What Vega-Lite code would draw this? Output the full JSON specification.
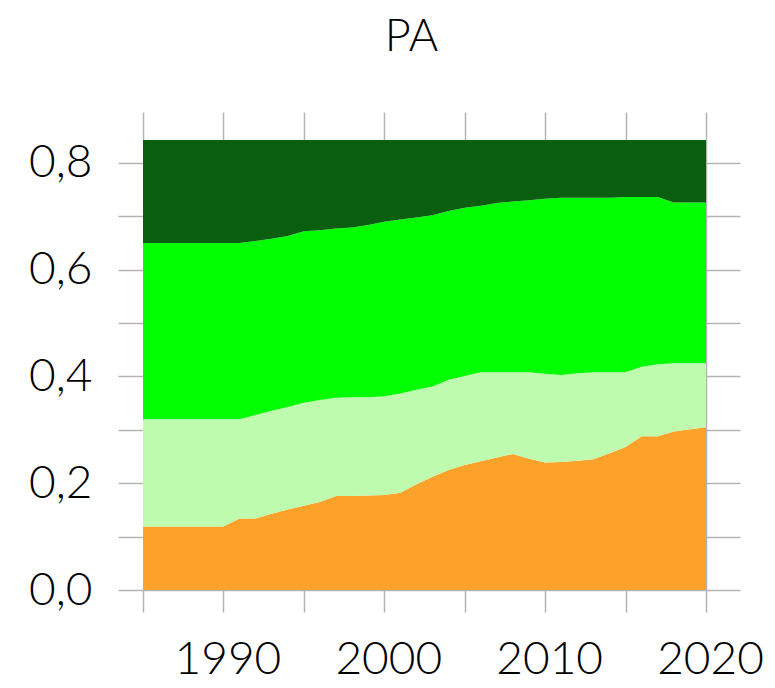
{
  "$schema": "https://vega.github.io/schema/vega-lite/v6.json",
  "width": 563,
  "height": 450,
  "autosize": {"type": "none"},
  "padding": {"left": 143, "top": 140, "right": 69, "bottom": 98},
  "background": "white",
  "title": {"text": "PA", "fontSize": 45, "font": "Lato", "fontWeight": 300, "color": "black", "frame": "group", "anchor": "middle", "offset": 15, "baseline": "alphabetic", "dx": -13},
  "config": {"view": {"stroke": null}},
  "data": {"values": [
    {"year":1985,"layer":"s1","share":0.119},{"year":1985,"layer":"s2","share":0.201},{"year":1985,"layer":"s3","share":0.330},{"year":1985,"layer":"s4","share":0.193},
    {"year":1986,"layer":"s1","share":0.119},{"year":1986,"layer":"s2","share":0.201},{"year":1986,"layer":"s3","share":0.330},{"year":1986,"layer":"s4","share":0.193},
    {"year":1987,"layer":"s1","share":0.119},{"year":1987,"layer":"s2","share":0.201},{"year":1987,"layer":"s3","share":0.330},{"year":1987,"layer":"s4","share":0.193},
    {"year":1988,"layer":"s1","share":0.119},{"year":1988,"layer":"s2","share":0.201},{"year":1988,"layer":"s3","share":0.330},{"year":1988,"layer":"s4","share":0.193},
    {"year":1989,"layer":"s1","share":0.119},{"year":1989,"layer":"s2","share":0.201},{"year":1989,"layer":"s3","share":0.330},{"year":1989,"layer":"s4","share":0.193},
    {"year":1990,"layer":"s1","share":0.119},{"year":1990,"layer":"s2","share":0.201},{"year":1990,"layer":"s3","share":0.330},{"year":1990,"layer":"s4","share":0.193},
    {"year":1991,"layer":"s1","share":0.134},{"year":1991,"layer":"s2","share":0.186},{"year":1991,"layer":"s3","share":0.330},{"year":1991,"layer":"s4","share":0.193},
    {"year":1992,"layer":"s1","share":0.134},{"year":1992,"layer":"s2","share":0.194},{"year":1992,"layer":"s3","share":0.326},{"year":1992,"layer":"s4","share":0.189},
    {"year":1993,"layer":"s1","share":0.143},{"year":1993,"layer":"s2","share":0.193},{"year":1993,"layer":"s3","share":0.322},{"year":1993,"layer":"s4","share":0.185},
    {"year":1994,"layer":"s1","share":0.151},{"year":1994,"layer":"s2","share":0.192},{"year":1994,"layer":"s3","share":0.320},{"year":1994,"layer":"s4","share":0.180},
    {"year":1995,"layer":"s1","share":0.158},{"year":1995,"layer":"s2","share":0.193},{"year":1995,"layer":"s3","share":0.321},{"year":1995,"layer":"s4","share":0.171},
    {"year":1996,"layer":"s1","share":0.165},{"year":1996,"layer":"s2","share":0.191},{"year":1996,"layer":"s3","share":0.318},{"year":1996,"layer":"s4","share":0.169},
    {"year":1997,"layer":"s1","share":0.176},{"year":1997,"layer":"s2","share":0.184},{"year":1997,"layer":"s3","share":0.317},{"year":1997,"layer":"s4","share":0.166},
    {"year":1998,"layer":"s1","share":0.176},{"year":1998,"layer":"s2","share":0.185},{"year":1998,"layer":"s3","share":0.318},{"year":1998,"layer":"s4","share":0.164},
    {"year":1999,"layer":"s1","share":0.177},{"year":1999,"layer":"s2","share":0.184},{"year":1999,"layer":"s3","share":0.323},{"year":1999,"layer":"s4","share":0.159},
    {"year":2000,"layer":"s1","share":0.178},{"year":2000,"layer":"s2","share":0.185},{"year":2000,"layer":"s3","share":0.327},{"year":2000,"layer":"s4","share":0.153},
    {"year":2001,"layer":"s1","share":0.182},{"year":2001,"layer":"s2","share":0.186},{"year":2001,"layer":"s3","share":0.326},{"year":2001,"layer":"s4","share":0.149},
    {"year":2002,"layer":"s1","share":0.198},{"year":2002,"layer":"s2","share":0.177},{"year":2002,"layer":"s3","share":0.323},{"year":2002,"layer":"s4","share":0.145},
    {"year":2003,"layer":"s1","share":0.212},{"year":2003,"layer":"s2","share":0.169},{"year":2003,"layer":"s3","share":0.321},{"year":2003,"layer":"s4","share":0.141},
    {"year":2004,"layer":"s1","share":0.225},{"year":2004,"layer":"s2","share":0.169},{"year":2004,"layer":"s3","share":0.316},{"year":2004,"layer":"s4","share":0.133},
    {"year":2005,"layer":"s1","share":0.234},{"year":2005,"layer":"s2","share":0.167},{"year":2005,"layer":"s3","share":0.315},{"year":2005,"layer":"s4","share":0.127},
    {"year":2006,"layer":"s1","share":0.241},{"year":2006,"layer":"s2","share":0.167},{"year":2006,"layer":"s3","share":0.312},{"year":2006,"layer":"s4","share":0.123},
    {"year":2007,"layer":"s1","share":0.248},{"year":2007,"layer":"s2","share":0.160},{"year":2007,"layer":"s3","share":0.317},{"year":2007,"layer":"s4","share":0.118},
    {"year":2008,"layer":"s1","share":0.255},{"year":2008,"layer":"s2","share":0.153},{"year":2008,"layer":"s3","share":0.320},{"year":2008,"layer":"s4","share":0.115},
    {"year":2009,"layer":"s1","share":0.246},{"year":2009,"layer":"s2","share":0.162},{"year":2009,"layer":"s3","share":0.322},{"year":2009,"layer":"s4","share":0.113},
    {"year":2010,"layer":"s1","share":0.239},{"year":2010,"layer":"s2","share":0.166},{"year":2010,"layer":"s3","share":0.328},{"year":2010,"layer":"s4","share":0.110},
    {"year":2011,"layer":"s1","share":0.240},{"year":2011,"layer":"s2","share":0.163},{"year":2011,"layer":"s3","share":0.332},{"year":2011,"layer":"s4","share":0.108},
    {"year":2012,"layer":"s1","share":0.242},{"year":2012,"layer":"s2","share":0.164},{"year":2012,"layer":"s3","share":0.329},{"year":2012,"layer":"s4","share":0.108},
    {"year":2013,"layer":"s1","share":0.245},{"year":2013,"layer":"s2","share":0.163},{"year":2013,"layer":"s3","share":0.327},{"year":2013,"layer":"s4","share":0.108},
    {"year":2014,"layer":"s1","share":0.256},{"year":2014,"layer":"s2","share":0.152},{"year":2014,"layer":"s3","share":0.327},{"year":2014,"layer":"s4","share":0.108},
    {"year":2015,"layer":"s1","share":0.268},{"year":2015,"layer":"s2","share":0.140},{"year":2015,"layer":"s3","share":0.328},{"year":2015,"layer":"s4","share":0.107},
    {"year":2016,"layer":"s1","share":0.288},{"year":2016,"layer":"s2","share":0.130},{"year":2016,"layer":"s3","share":0.318},{"year":2016,"layer":"s4","share":0.107},
    {"year":2017,"layer":"s1","share":0.288},{"year":2017,"layer":"s2","share":0.135},{"year":2017,"layer":"s3","share":0.313},{"year":2017,"layer":"s4","share":0.107},
    {"year":2018,"layer":"s1","share":0.297},{"year":2018,"layer":"s2","share":0.128},{"year":2018,"layer":"s3","share":0.301},{"year":2018,"layer":"s4","share":0.117},
    {"year":2019,"layer":"s1","share":0.301},{"year":2019,"layer":"s2","share":0.124},{"year":2019,"layer":"s3","share":0.301},{"year":2019,"layer":"s4","share":0.117},
    {"year":2020,"layer":"s1","share":0.305},{"year":2020,"layer":"s2","share":0.120},{"year":2020,"layer":"s3","share":0.301},{"year":2020,"layer":"s4","share":0.117}
  ]},
  "layer": [
    {
      "mark": {"type": "area", "opacity": 0},
      "encoding": {
        "x": {"field": "year", "type": "quantitative", "scale": {"domain": [1985, 2020], "nice": false},
          "axis": {"orient": "top", "values": [1985,1990,1995,2000,2005,2010,2015,2020], "tickSize": 28, "tickColor": "#b4b4b4", "tickWidth": 1.5, "labels": false, "domain": false, "grid": false, "title": null}},
        "y": {"field": "share", "type": "quantitative", "stack": "zero", "scale": {"domain": [0, 0.843], "nice": false},
          "axis": {"orient": "right", "values": [0,0.1,0.2,0.3,0.4,0.5,0.6,0.7,0.8], "tickSize": 34, "tickColor": "#b4b4b4", "tickWidth": 1.5, "labels": false, "domain": true, "domainColor": "#b4b4b4", "domainWidth": 1.5, "grid": false, "title": null}},
        "color": {"field": "layer", "type": "nominal", "legend": null},
        "order": {"field": "layer", "sort": "ascending"}
      }
    },
    {
      "mark": {"type": "area", "opacity": 1},
      "encoding": {
        "x": {"field": "year", "type": "quantitative", "scale": {"domain": [1985, 2020], "nice": false},
          "axis": {"orient": "bottom", "values": [1985,1990,1995,2000,2005,2010,2015,2020], "tickSize": 22, "tickColor": "#b4b4b4", "tickWidth": 1.5, "domain": true, "domainColor": "#b4b4b4", "domainWidth": 1.5, "grid": false, "title": null,
            "labelExpr": "datum.value % 10 == 0 ? toString(datum.value) : ''", "labelFont": "Lato", "labelFontWeight": 300, "labelFontSize": 46, "labelColor": "black", "labelPadding": 25, "labelFlush": false, "labelOverlap": false, "labelOffset": 4}},
        "y": {"field": "share", "type": "quantitative", "stack": "zero", "scale": {"domain": [0, 0.843], "nice": false},
          "axis": {"orient": "left", "values": [0,0.1,0.2,0.3,0.4,0.5,0.6,0.7,0.8], "tickSize": 25, "tickColor": "#b4b4b4", "tickWidth": 1.5, "domain": false, "grid": false, "title": null,
            "labelExpr": "round(datum.value * 10) % 2 == 0 ? replace(format(datum.value, '.1f'), '.', ',') : ''", "labelFont": "Lato", "labelFontWeight": 300, "labelFontSize": 46, "labelColor": "black", "labelPadding": 26, "labelFlush": false, "labelOverlap": false}},
        "color": {"field": "layer", "type": "nominal", "legend": null,
          "scale": {"domain": ["s1", "s2", "s3", "s4"], "range": ["#FCA22B", "#BEFBAE", "#00FF00", "#0A5E0F"]}},
        "order": {"field": "layer", "sort": "ascending"}
      }
    }
  ],
  "resolve": {"axis": {"x": "independent", "y": "independent"}}
}
